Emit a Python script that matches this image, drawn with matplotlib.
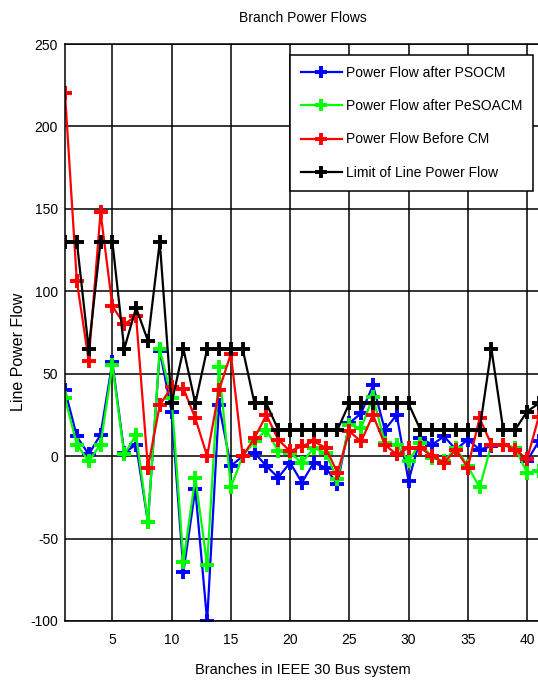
import matplotlib
matplotlib.use("Agg")
import matplotlib.pyplot as plt
import numpy as np

plt.rcParams['font.family'] = ['Liberation Sans', 'DejaVu Sans']
plt.rcParams['axes.unicode_minus'] = False

branches = list(range(1, 42))

psocm = [40, 12, 1, 13, 57, 2, 7, -40, 64, 27,
         -70, -20, -100, 31, -6, 0, 2, -6, -13, -4,
         -16, -4, -7, -17, 20, 26, 43, 16, 25, -15,
         11, 7, 12, 4, 10, 4, 6, 7, 5, -3, 9]

pesoacm = [35, 7, -3, 7, 55, 1, 13, -40, 65, 35,
           -64, -13, -66, 54, -19, 0, 9, 16, 3, 2,
           -4, 5, 2, -14, 19, 17, 36, 8, 7, -3,
           8, -1, -3, 5, -6, -19, 7, 7, 5, -10, -9]

before_cm = [220, 106, 58, 148, 91, 80, 85, -7, 31, 42,
             41, 23, 0, 40, 62, 0, 11, 25, 10, 3,
             6, 9, 5, -10, 15, 9, 25, 7, 1, 5,
             5, 0, -4, 4, -7, 23, 7, 7, 4, -2, 24]

limit = [130, 130, 65, 130, 130, 65, 90, 70, 130, 32,
         65, 32, 65, 65, 65, 65, 32, 32, 16, 16,
         16, 16, 16, 16, 32, 32, 32, 32, 32, 32,
         16, 16, 16, 16, 16, 16, 65, 16, 16, 27, 32]

series = [
    ("Power Flow after PSOCM", psocm, "#0000ff"),
    ("Power Flow after PeSOACM", pesoacm, "#00ff00"),
    ("Power Flow Before CM", before_cm, "#ff0000"),
    ("Limit of Line Power Flow", limit, "#000000"),
]

xticks = [5, 10, 15, 20, 25, 30, 35, 40]
yticks = [-100, -50, 0, 50, 100, 150, 200, 250]

fig = plt.figure(figsize=(5.38, 6.84), dpi=100)
ax = fig.add_axes([65/538, 1-621/684, 475/538, 577/684])

for name, vals, col in series:
    ax.plot(branches, vals, color=col, linewidth=1.6, marker='+',
            markersize=10, markeredgewidth=2.8, label=name)

ax.set_xlim(1, 41.1)
ax.set_ylim(-100, 250)
ax.set_xticks(xticks)
ax.set_yticks(yticks)
ax.tick_params(axis='both', labelsize=10, direction='in', length=0, colors='black')
ax.tick_params(axis='x', pad=9)
ax.tick_params(axis='y', pad=5)
ax.grid(True, color='black', linewidth=1.1, linestyle='-')
ax.set_axisbelow(True)
for s in ax.spines.values():
    s.set_color('black')
    s.set_linewidth(1.1)
ax.spines['right'].set_visible(False)

ax.set_title("Branch Power Flows", fontsize=10, pad=16)
ax.set_xlabel("Branches in IEEE 30 Bus system", fontsize=10.5)
ax.xaxis.set_label_coords(0.5, -0.072)
ax.set_ylabel("Line Power Flow", fontsize=11.5)
ax.yaxis.set_label_coords(-0.082, 0.466)

leg = ax.legend(loc='upper left', bbox_to_anchor=(0.474, 0.981), fontsize=10,
                frameon=True, fancybox=False, framealpha=1, edgecolor='black',
                handlelength=2.9, borderpad=0.8, labelspacing=1.38, handletextpad=0.3,
                borderaxespad=0)
leg.get_frame().set_linewidth(1.1)
for h in leg.legend_handles:
    h.set_markersize(8)

fig.savefig("out.png", dpi=100)
